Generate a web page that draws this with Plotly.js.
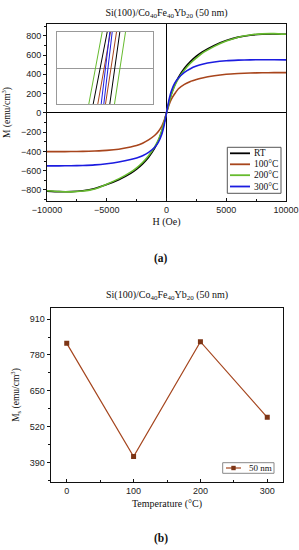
<!DOCTYPE html>
<html><head><meta charset="utf-8">
<script src="https://cdn.plot.ly/plotly-3.0.1.min.js"></script>
<style>html,body{margin:0;padding:0;background:#fff;}#chart{width:299px;height:550px;}</style>
</head><body><div id="chart"></div>
<script>
// ---------- (a) hysteresis loops ----------
const fieldOe = [-10000,-9000,-8000,-7000,-6000,-5000,-4000,-3000,-2500,-2000,-1500,-1000,-700,-400,-200,0,200,400,700,1000,1500,2000,2500,3000,4000,5000,6000,7000,8000,9000,10000];
const mRT  = [-812,-818,-818,-808,-785,-745,-695,-628,-585,-530,-460,-368,-295,-195,-105,0,105,195,295,368,462,532,588,632,700,750,786,806,816,818,815];
const m100 = [-403,-403,-402,-400,-396,-390,-378,-355,-340,-315,-280,-235,-195,-140,-80,0,80,140,200,250,295,325,345,362,385,400,408,413,416,417,417];
const m200 = [-808,-816,-820,-812,-790,-740,-685,-615,-570,-515,-445,-355,-285,-185,-100,0,100,185,285,355,445,515,570,620,690,745,785,808,820,822,815];
const m300 = [-550,-550,-549,-546,-540,-528,-510,-485,-468,-445,-410,-360,-310,-225,-130,0,130,225,310,362,420,458,485,505,528,541,547,550,551,551,550];
const seriesNames  = ['RT','100°C','200°C','300°C'];
const seriesColors = ['#000000','#a8451c','#66bb2e','#1c1ce0'];

// inset (zoom near origin): end points of each branch
const insetY = [-1, 1];
const insetGreenA = [-16.2, -2.8];
const insetBlackA = [-11.8, 2.2];
const insetBrownA = [-7.2, 5.5];
const insetBlueA  = [-3.8, 4.8];
const insetBlueB  = [-1.2, 7.2];
const insetBrownB = [0.5, 11.5];
const insetBlackB = [4.8, 14.8];
const insetGreenB = [9.5, 20.5];

// ---------- (b) Ms vs temperature ----------
const temperatures = [0, 100, 200, 300];
const msValues = [822, 412, 828, 554];
const msTicks = [390, 520, 650, 780, 910];
const tempTicks = [0, 100, 200, 300];

const W = 299, HH = 550;
const px = x => x / W, py = y => 1 - y / HH;
const serif = 'Liberation Serif, Times New Roman, serif';
const sans = 'Liberation Sans, Arial, sans-serif';
const tickFont = {family: sans, size: 9, color: '#222'};

const mainSeries = [mRT, m100, m200, m300];
const traces = mainSeries.map((m, i) => ({
  type: 'scatter', mode: 'lines', x: fieldOe, y: m, name: seriesNames[i],
  line: {color: seriesColors[i], width: 1.6, shape: 'spline', smoothing: 0.6},
  xaxis: 'x', yaxis: 'y', showlegend: false, hoverinfo: 'skip'
}));

const insetLines = [
  [insetGreenA, seriesColors[2]], [insetBlackA, seriesColors[0]], [insetBrownA, seriesColors[1]],
  [insetBlueA, seriesColors[3]], [insetBlueB, seriesColors[3]], [insetBrownB, seriesColors[1]],
  [insetBlackB, seriesColors[0]], [insetGreenB, seriesColors[2]]
];
insetLines.forEach(([xs, c]) => traces.push({
  type: 'scatter', mode: 'lines', x: xs, y: insetY, line: {color: c, width: 1},
  xaxis: 'x3', yaxis: 'y3', showlegend: false, hoverinfo: 'skip'
}));

traces.push({
  type: 'scatter', mode: 'lines+markers', x: temperatures, y: msValues, name: '50 nm',
  line: {color: '#a5461f', width: 1.2},
  marker: {symbol: 'square', size: 5, color: '#7d3516'},
  xaxis: 'x2', yaxis: 'y2', showlegend: false, hoverinfo: 'skip'
});

const axisBase = {showline: true, linecolor: '#111', linewidth: 1, mirror: true, showgrid: false, tickfont: tickFont, tickcolor: '#111', tickformat: 'd'};

// manual legends
const shapes = [];
const annotations = [];
// legend (a)
shapes.push({type: 'rect', xref: 'paper', yref: 'paper', x0: px(227.3), x1: px(281), y0: py(193.3), y1: py(147.3), line: {color: '#555', width: 1}, fillcolor: '#fff'});
const legY = [153.3, 164.3, 175.2, 186.5];
seriesNames.forEach((n, i) => {
  shapes.push({type: 'line', xref: 'paper', yref: 'paper', x0: px(230), x1: px(250), y0: py(legY[i]), y1: py(legY[i]), line: {color: seriesColors[i], width: 1.8}});
  annotations.push({xref: 'paper', yref: 'paper', x: px(251.5), y: py(legY[i]), xanchor: 'left', yanchor: 'middle', text: n, showarrow: false, font: {family: serif, size: 9.5, color: '#111'}});
});
// legend (b)
shapes.push({type: 'rect', xref: 'paper', yref: 'paper', x0: px(222.7), x1: px(274), y0: py(473.3), y1: py(462.7), line: {color: '#888', width: 1}, fillcolor: '#fff'});
shapes.push({type: 'line', xref: 'paper', yref: 'paper', x0: px(226), x1: px(241), y0: py(468), y1: py(468), line: {color: '#a5461f', width: 1.2}});
shapes.push({type: 'rect', xref: 'paper', yref: 'paper', x0: px(231.3), x1: px(235.7), y0: py(470.2), y1: py(465.8), line: {width: 0}, fillcolor: '#7d3516'});
annotations.push({xref: 'paper', yref: 'paper', x: px(246.5), y: py(468), xanchor: 'left', yanchor: 'middle', text: '50 nm', showarrow: false, font: {family: serif, size: 9, color: '#111'}});

// panel titles / labels
annotations.push({xref: 'paper', yref: 'paper', x: px(167), y: py(295), xanchor: 'center', yanchor: 'middle', showarrow: false,
  text: 'Si(100)/Co<sub>40</sub>Fe<sub>40</sub>Yb<sub>20</sub> (50 nm)', font: {family: serif, size: 10, color: '#111'}});
annotations.push({xref: 'paper', yref: 'paper', x: px(161), y: py(258), xanchor: 'center', yanchor: 'middle', showarrow: false,
  text: '<b>(a)</b>', font: {family: serif, size: 11.5, color: '#111'}});
annotations.push({xref: 'paper', yref: 'paper', x: px(161), y: py(538), xanchor: 'center', yanchor: 'middle', showarrow: false,
  text: '<b>(b)</b>', font: {family: serif, size: 11.5, color: '#111'}});

const layout = {
  width: W, height: HH, margin: {l: 0, r: 0, t: 0, b: 0},
  paper_bgcolor: '#fff', plot_bgcolor: '#fff', showlegend: false,
  title: {text: 'Si(100)/Co<sub>40</sub>Fe<sub>40</sub>Yb<sub>20</sub> (50 nm)', x: px(166.5), y: py(12), xref: 'paper', yref: 'paper',
    xanchor: 'center', yanchor: 'middle', font: {family: serif, size: 10, color: '#111'}},
  xaxis: Object.assign({}, axisBase, {
    domain: [px(47), px(286)], range: [-10000, 10000], anchor: 'y',
    tick0: 0, dtick: 5000, ticks: 'inside', ticklen: 3,
    minor: {dtick: 2500, ticks: 'inside', ticklen: 2, tickcolor: '#111'},
    zeroline: true, zerolinecolor: '#000', zerolinewidth: 1,
    title: {text: 'H (Oe)', font: {family: serif, size: 10, color: '#111'}, standoff: 4}
  }),
  yaxis: Object.assign({}, axisBase, {
    domain: [py(201), py(24)], range: [-915, 922], anchor: 'x',
    tick0: 0, dtick: 200, ticks: 'outside', ticklen: 3,
    minor: {dtick: 100, ticks: 'outside', ticklen: 2, tickcolor: '#111'},
    zeroline: true, zerolinecolor: '#000', zerolinewidth: 1,
    title: {text: 'M (emu/cm<sup>3</sup>)', font: {family: serif, size: 9.5, color: '#111'}, standoff: 8}
  }),
  xaxis2: Object.assign({}, axisBase, {
    domain: [px(50.7), px(283.3)], range: [-24, 324], anchor: 'y2',
    tickvals: tempTicks, ticks: 'inside', ticklen: 3,
    minor: {dtick: 50, tick0: 0, ticks: 'inside', ticklen: 2, tickcolor: '#111'},
    zeroline: false,
    title: {text: 'Temperature (°C)', font: {family: serif, size: 10, color: '#111'}, standoff: 5}
  }),
  yaxis2: Object.assign({}, axisBase, {
    domain: [py(481.7), py(308.3)], range: [321, 949], anchor: 'x2',
    tickvals: msTicks, ticks: 'outside', ticklen: 3,
    minor: {dtick: 65, tick0: 390, ticks: 'outside', ticklen: 2, tickcolor: '#111'},
    zeroline: false,
    title: {text: 'M<sub>s</sub> (emu/cm<sup>3</sup>)', font: {family: serif, size: 9.5, color: '#111'}, standoff: 8}
  }),
  xaxis3: {domain: [px(57), px(153)], range: [-48, 48], anchor: 'y3', showline: true, mirror: true,
    linecolor: '#999', linewidth: 1, showticklabels: false, ticks: '', zeroline: false, showgrid: false},
  yaxis3: {domain: [py(104), py(32)], range: [-1, 1], anchor: 'x3', showline: true, mirror: true,
    linecolor: '#999', linewidth: 1, showticklabels: false, ticks: '', zeroline: true, zerolinecolor: '#999', zerolinewidth: 1, showgrid: false},
  shapes: shapes,
  annotations: annotations
};

Plotly.newPlot('chart', traces, layout, {staticPlot: true, displayModeBar: false});
</script>
</body></html>
